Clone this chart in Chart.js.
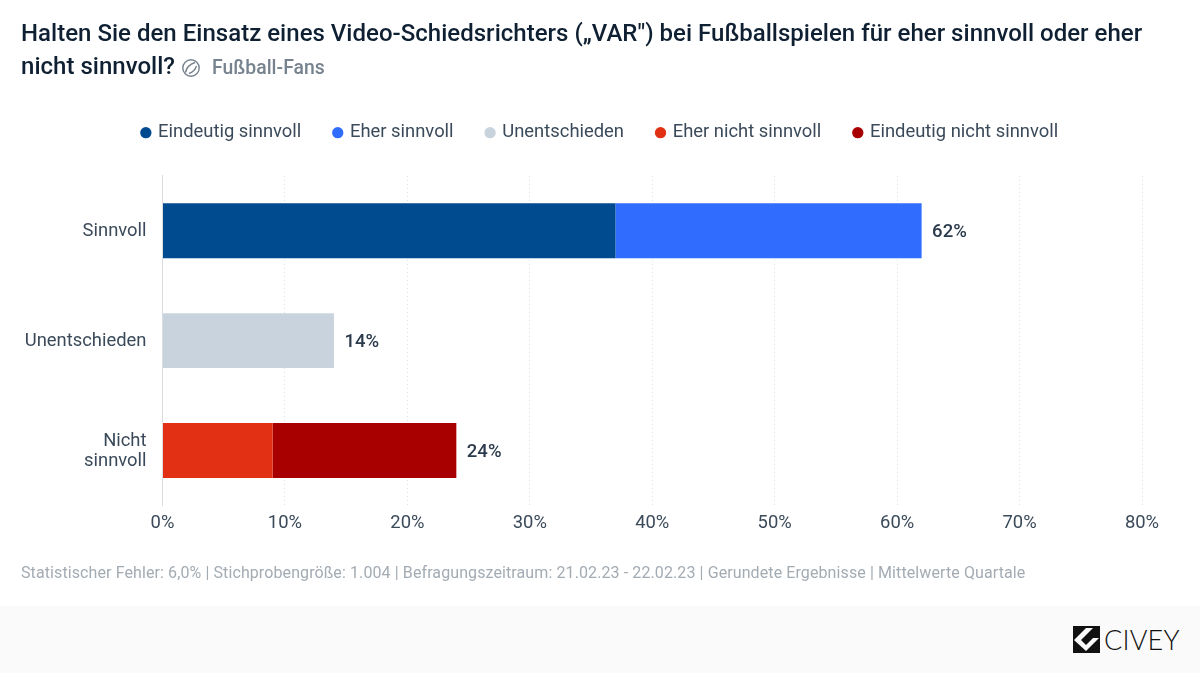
<!DOCTYPE html>
<html lang="de">
<head>
<meta charset="utf-8">
<title>VAR Umfrage</title>
<script src="https://cdn.jsdelivr.net/npm/chart.js"></script>
<style>
  html, body { margin: 0; padding: 0; background: #fff; }
  body { width: 1200px; height: 673px; position: relative; overflow: hidden; font-family: Roboto, sans-serif; }
  #title { position: absolute; left: 21px; top: 17px; width: 1150px; font-size: 24px; letter-spacing: 0.02px; line-height: 32.5px; font-weight: 500; color: #0f2033; }
  #title .sub { font-size: 19.4px; color: #76828e; margin-left: 5px; }
  #title svg { vertical-align: -4px; margin-left: 0; }
  #wrap { position: absolute; left: 0; top: 0; width: 1200px; height: 673px; }
  #note { position: absolute; left: 21px; top: 563px; font-size: 16px; letter-spacing: 0.1px; color: #a3abb3; white-space: nowrap; }
  #foot { position: absolute; left: 0; top: 606px; width: 1200px; height: 67px; background: #fafafa; }
  #logo { position: absolute; left: 1073px; top: 20px; }
  #brand { position: absolute; left: 1104px; top: 623px; font-family: Lato, sans-serif; font-weight: 300; font-size: 27px; line-height: 34px; color: #111; letter-spacing: 0.2px; }
</style>
</head>
<body>
<div id="wrap"><canvas id="chart" width="1200" height="673"></canvas></div>
<div id="title">Halten Sie den Einsatz eines Video-Schiedsrichters („VAR") bei Fußballspielen für eher sinnvoll oder eher nicht sinnvoll?
  <svg width="20" height="20" viewBox="0 0 20 20" fill="none" stroke="#76828e" stroke-width="1.4"><circle cx="10" cy="10" r="8.2"/><path d="M4.5 14.5 Q6 7 14 4.5"/><path d="M8 15.5 Q13.5 14 15.5 8"/></svg>
  <span class="sub">Fußball-Fans</span></div>
<div id="note">Statistischer Fehler: 6,0% | Stichprobengröße: 1.004 | Befragungszeitraum: 21.02.23 - 22.02.23 | Gerundete Ergebnisse | Mittelwerte Quartale</div>
<div id="foot">
  <svg id="logo" width="27" height="27" viewBox="0 0 27 27"><rect width="27" height="27" fill="#111"/><path d="M1 14 L13 2 L20 2 L8 14 L13 19 L20 12 L26 12 L13 25 Z" fill="#fafafa"/></svg>
</div>
<div id="brand">CIVEY</div>
<script>
const categories = [["Sinnvoll"], ["Unentschieden"], ["Nicht", "sinnvoll"]];
const eindeutigSinnvoll = [37, null, null];
const eherSinnvoll = [25, null, null];
const unentschieden = [null, 14, null];
const eherNichtSinnvoll = [null, null, 9];
const eindeutigNichtSinnvoll = [null, null, 15];
const totals = [62, 14, 24];
const xTicks = [0, 10, 20, 30, 40, 50, 60, 70, 80];

const textColor = "#3b4a5a";
const fontSize = 18.4;

function bar(label, data, color) {
    return {label: label, data: data, backgroundColor: color, borderWidth: 0, stack: "a",
        barPercentage: 0.5, categoryPercentage: 1};
}

// legend: extra gap below it, centred on the whole page and not on the plot side
const legendPlace = {
    id: "legendPlace",
    beforeInit(chart) {
        const fit = chart.legend.fit;
        chart.legend.fit = function () {
            fit.call(this);
            this.height += 24;
        };
    },
    afterLayout(chart) {
        chart.legend.left = 0.5;
        chart.legend.right = chart.width + 0.5;
    }
};

// totals at the end of each bar
const totalLabels = {
    id: "totalLabels",
    afterDatasetsDraw(chart) {
        const ctx = chart.ctx;
        ctx.save();
        ctx.font = "500 18.5px Roboto";
        ctx.fillStyle = "#2b3a4c";
        ctx.textBaseline = "middle";
        totals.forEach((t, i) => {
            ctx.fillText(t + "%", chart.scales.x.getPixelForValue(t) + 10.5, chart.scales.y.getPixelForValue(i) + 1.5);
        });
        ctx.restore();
    }
};

new Chart(document.getElementById("chart"), {
    type: "bar",
    data: {
        labels: categories,
        datasets: [
            bar("Eindeutig sinnvoll", eindeutigSinnvoll, "#004a8f"),
            bar("Eher sinnvoll", eherSinnvoll, "#306dff"),
            bar("Unentschieden", unentschieden, "#c8d3de"),
            bar("Eher nicht sinnvoll", eherNichtSinnvoll, "#e13013"),
            bar("Eindeutig nicht sinnvoll", eindeutigNichtSinnvoll, "#a80000")
        ]
    },
    plugins: [legendPlace, totalLabels],
    options: {
        indexAxis: "y",
        responsive: false,
        devicePixelRatio: 1,
        animation: false,
        layout: {padding: {top: 90, left: 0, right: 58, bottom: 131.5}},
        plugins: {
            tooltip: {enabled: false},
            legend: {
                position: "top",
                align: "center",
                labels: {
                    usePointStyle: true,
                    pointStyle: "circle",
                    boxWidth: 6,
                    boxHeight: 8,
                    padding: 33.5,
                    color: textColor,
                    font: {family: "Roboto", size: fontSize}
                }
            }
        },
        scales: {
            x: {
                stacked: true,
                min: 0,
                max: 80,
                afterBuildTicks(scale) { scale.ticks = xTicks.map(v => ({value: v})); },
                grid: {color: "#d9dde1", drawTicks: false, lineWidth: 1},
                border: {display: false, dash: [1, 3]},
                ticks: {color: textColor, padding: 7, maxRotation: 0, font: {family: "Roboto", size: fontSize},
                    callback: v => v + "%"}
            },
            y: {
                stacked: true,
                afterFit(scale) { scale.width = 162.5; },
                grid: {display: false, drawTicks: false},
                border: {display: true, color: "#d9dde1"},
                ticks: {color: textColor, padding: 16, labelOffset: 1, font: {family: "Roboto", size: fontSize, lineHeight: 1.1}}
            }
        }
    }
});
</script>
</body>
</html>
